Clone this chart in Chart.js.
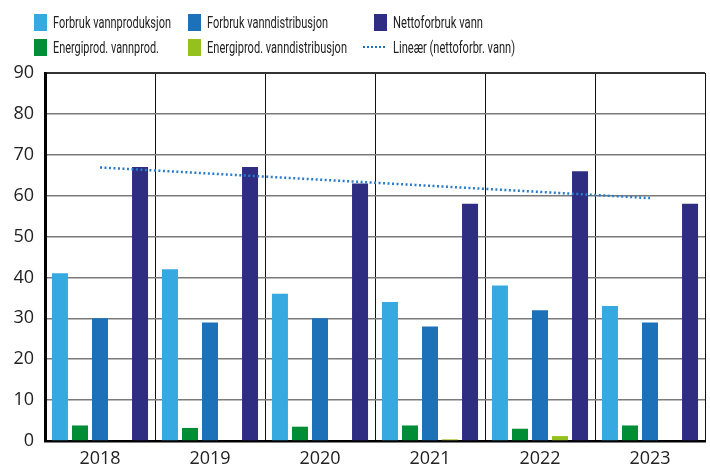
<!DOCTYPE html>
<html>
<head>
<meta charset="utf-8">
<script src="https://cdn.jsdelivr.net/npm/chart.js@4"></script>
<style>
  html, body { margin: 0; padding: 0; background: #fff; }
  #wrap { position: relative; width: 710px; height: 471px; }
  canvas { position: absolute; left: 0; top: 0; }
  .lg { position: absolute; font-family: "Roboto", sans-serif; font-size: 16px; color: #222; line-height: 18px; white-space: nowrap; transform-origin: 0 50%; }
  .sw { position: absolute; width: 13px; height: 17px; }
  .ln { position: absolute; width: 22px; height: 0; border-top: 2px dotted #1D71B8; }
</style>
</head>
<body>
<div id="wrap">
  <canvas id="c" width="710" height="471"></canvas>
  <div id="legend"></div>
</div>
<script>
const years = ["2018", "2019", "2020", "2021", "2022", "2023"];
const forbrukVannproduksjon = [41, 42, 36, 34, 38, 33];
const energiprodVannprod = [3.8, 3.2, 3.5, 3.8, 3.0, 3.8];
const forbrukVanndistribusjon = [30, 29, 30, 28, 32, 29];
const energiprodVanndistribusjon = [0, 0, 0, 0.4, 1.2, 0];
const nettoforbrukVann = [67, 67, 63, 58, 66, 58];
const lineaerNetto = [66.9, null, null, null, null, 59.4];
const yTicks = [0, 10, 20, 30, 40, 50, 60, 70, 80, 90];

const colors = {
  lightBlue: "#36A9E1",
  midBlue: "#1D71B8",
  navy: "#2E2D82",
  green: "#008D36",
  lime: "#95C11F"
};

// HTML legend (layout positions and text widths)
const legendItems = [
  { label: "Forbruk vannproduksjon", color: colors.lightBlue, x: 34, y: 14, w: 118 },
  { label: "Forbruk vanndistribusjon", color: colors.midBlue, x: 188, y: 14, w: 121 },
  { label: "Nettoforbruk vann", color: colors.navy, x: 374, y: 14, w: 90 },
  { label: "Energiprod. vannprod.", color: colors.green, x: 34, y: 39, w: 106 },
  { label: "Energiprod. vanndistribusjon", color: colors.lime, x: 188, y: 39, w: 140 },
  { label: "Lineær (nettoforbr. vann)", line: true, x: 374, y: 39, w: 122 }
];
const lg = document.getElementById("legend");
legendItems.forEach(it => {
  if (it.line) {
    const l = document.createElement("div");
    l.className = "ln";
    l.style.left = (it.x - 11) + "px";
    l.style.top = (it.y + 7) + "px";
    lg.appendChild(l);
  } else {
    const s = document.createElement("div");
    s.className = "sw";
    s.style.left = it.x + "px";
    s.style.top = it.y + "px";
    s.style.background = it.color;
    lg.appendChild(s);
  }
  const t = document.createElement("div");
  t.className = "lg";
  t.textContent = it.label;
  t.style.left = (it.x + 19) + "px";
  t.style.top = it.y + "px";
  lg.appendChild(t);
  const nat = t.getBoundingClientRect().width;
  if (nat > 0) t.style.transform = "scaleX(" + (it.w / nat) + ")";
});

const barOpts = { categoryPercentage: 0.91, barPercentage: 0.8 };

new Chart(document.getElementById("c"), {
  type: "bar",
  data: {
    labels: years,
    datasets: [
      { label: "Forbruk vannproduksjon", data: forbrukVannproduksjon, backgroundColor: colors.lightBlue, ...barOpts, order: 2 },
      { label: "Energiprod. vannprod.", data: energiprodVannprod, backgroundColor: colors.green, ...barOpts, order: 2 },
      { label: "Forbruk vanndistribusjon", data: forbrukVanndistribusjon, backgroundColor: colors.midBlue, ...barOpts, order: 2 },
      { label: "Energiprod. vanndistribusjon", data: energiprodVanndistribusjon, backgroundColor: colors.lime, ...barOpts, order: 2 },
      { label: "Nettoforbruk vann", data: nettoforbrukVann, backgroundColor: colors.navy, ...barOpts, order: 2 },
      { type: "line", label: "Lineær (nettoforbr. vann)", data: lineaerNetto, borderColor: "#2A7BC8", borderWidth: 2.5, borderDash: [2, 2.5], pointRadius: 0, spanGaps: true, fill: false, order: 1 }
    ]
  },
  options: {
    responsive: false,
    animation: false,
    devicePixelRatio: 1,
    layout: { padding: { top: 73, right: 5, left: 0, bottom: 0 } },
    plugins: { legend: { display: false }, tooltip: { enabled: false } },
    scales: {
      x: {
        grid: { color: "#111", lineWidth: 1, drawTicks: false, offset: true },
        border: { color: "#000", width: 2.5 },
        ticks: { color: "#222", font: { family: "Open Sans", size: 18 }, padding: 7 },
        afterFit: s => { s.height = 30; }
      },
      y: {
        min: 0, max: 90,
        afterBuildTicks: s => { s.ticks = yTicks.map(v => ({ value: v })); },
        grid: {
          color: ctx => (ctx.tick && ctx.tick.value === 90) ? "#333" : "#7a7a7a",
          lineWidth: ctx => (ctx.tick && ctx.tick.value === 90) ? 2 : 1.5,
          drawTicks: false
        },
        border: { color: "#000", width: 3 },
        ticks: { color: "#222", font: { family: "Open Sans", size: 18 }, padding: 11 },
        afterFit: s => { s.width = 45; }
      }
    }
  }
});
</script>
</body>
</html>
